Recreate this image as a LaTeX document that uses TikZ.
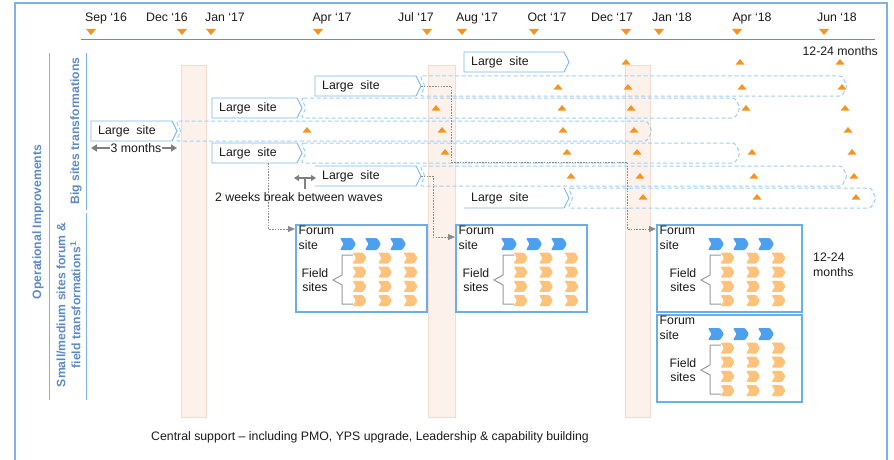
\documentclass[tikz,border=0pt]{standalone}
\usepackage{fontspec}
\setmainfont{Liberation Sans}
\usetikzlibrary{arrows.meta}

\definecolor{frameblue}{HTML}{7DB3E6}
\definecolor{axisblue}{HTML}{5B8FCF}
\definecolor{labelblue}{HTML}{5E8BC6}
\definecolor{siteblue}{HTML}{7DB8E8}
\definecolor{dashblue}{HTML}{9FD0F2}
\definecolor{markorange}{HTML}{F7941E}
\definecolor{chevblue}{HTML}{4DA0EE}
\definecolor{chevorange}{HTML}{FFC27A}
\definecolor{bandfill}{HTML}{FDF2EB}
\definecolor{banddraw}{HTML}{F2DCD0}
\definecolor{linkgray}{HTML}{8C8C8C}
\definecolor{arrowgray}{HTML}{7F7F7F}
\definecolor{textdark}{HTML}{1A1A1A}
\definecolor{forumblue}{HTML}{6AAFE6}
\definecolor{bracketgray}{HTML}{9A9A9A}

\tikzset{
  frameline/.style={draw=frameblue, line width=1.5pt},
  groupline/.style={draw=frameblue, line width=1pt},
  band/.style={fill=bandfill, draw=banddraw, line width=0.6pt},
  solidbox/.style={draw=siteblue, line width=0.9pt, fill=white},
  dashbox/.style={draw=dashblue, line width=1pt, dash pattern=on 4pt off 2.5pt, rounded corners=2.5pt},
  forumframe/.style={draw=forumblue, line width=1.6pt, fill=white, inner sep=0pt},
  bracketline/.style={draw=bracketgray, line width=1pt},
  link/.style={draw=linkgray, line width=0.8pt, dash pattern=on 1.6pt off 1.2pt, -{Triangle[length=7pt,width=6pt]}},
  gaparrow/.style={draw=arrowgray, line width=1.8pt, -{Triangle[length=6pt,width=7pt]}},
  sidelabel/.style={text=labelblue, font=\fontsize{12.2}{15}\selectfont\bfseries, inner sep=0pt},
  uptri/.pic={\fill[markorange] (-4.5,2.6) -- (4.5,2.6) -- (0,-3) -- cycle;},
  downtri/.pic={\fill[markorange] (-5,-3) -- (5,-3) -- (0,3) -- cycle;},
  bluechev/.pic={\fill[chevblue, rounded corners=1pt] (-8,-6) -- (4,-6) -- (8,0) -- (4,6) -- (-8,6) -- (-4.5,0) -- cycle;},
  orangechev/.pic={\fill[chevorange, rounded corners=1pt] (-7,-5.5) -- (3.5,-5.5) -- (7,0) -- (3.5,5.5) -- (-7,5.5) -- (-3.5,0) -- cycle;},
}

% one forum box: name, left, top, width, content shift
\newcommand\forumbox[5]{%
  \node[forumframe, minimum width=#4pt, minimum height=87pt, anchor=north west] (#1) at (#2,#3) {};
  \node[anchor=north west, align=left, inner sep=0pt] (#1forum) at ({#2+3.5},{#3+2}) {Forum\\site};
  \node[align=center, inner sep=0pt] (#1field) at ({#2+#5+20},{#3+56}) {Field\\sites};
  \draw[bracketline] ({#2+#5+58},{#3+31}) -- ({#2+#5+47},{#3+31}) -- ({#2+#5+47},{#3+51})
    -- ({#2+#5+38},{#3+56}) -- ({#2+#5+47},{#3+61}) -- ({#2+#5+47},{#3+80}) -- ({#2+#5+58},{#3+80});
  \foreach \c in {0,1,2} {
    \pic at ({#2+#5+53+25*\c},{#3+20}) {bluechev};
    \foreach \r in {0,1,2,3} \pic at ({#2+#5+64.5+25.5*\c},{#3+34+14.2*\r}) {orangechev};
  }
}

\begin{document}
\begin{tikzpicture}[x=1pt,y=-1pt,
  every node/.style={font=\fontsize{12.3}{14.5}\selectfont, text=textdark}]
\useasboundingbox (0,0) rectangle (894,460);

% outer frame and time axis
\draw[frameline] (15,3) rectangle (887,480);
\draw[draw=axisblue, line width=1pt] (81,40) -- (875,40);

% months along the top
\foreach \i/\x/\t in {1/106/Sep ‘16, 2/167/Dec ‘16, 3/225/Jan ‘17, 4/332/Apr ‘17, 5/416/Jul ‘17,
                      6/477/Aug ‘17, 7/547/Oct ‘17, 8/612/Dec ‘17, 9/672/Jan ‘18, 10/752/Apr ‘18, 11/837/Jun ‘18}
  \node[anchor=base] (month\i) at (\x,21.5) {\t};
\foreach \x in {91,182,211,318,427,462,534,626,659,737,824}
  \pic at (\x,32) {downtri};
\node[anchor=east, inner sep=0pt] (spantop) at (878,51) {12-24 months};

% support bands
\draw[band] (181,65) rectangle (206,417);
\draw[band] (428,65) rectangle (455,417);
\draw[band] (625,65) rectangle (650,417);

% group labels on the left
\draw[groupline] (49,53) -- (49,400);
\draw[groupline] (86,53) -- (86,210);
\draw[groupline] (86,213) -- (86,400);
\node[sidelabel, rotate=90] (opimp) at (38,222) {Operational Improvements};
\node[sidelabel, rotate=90] (bigsites) at (76,131) {Big sites transformations};
\node[sidelabel, rotate=90, align=center] (smallsites) at (68.5,305) {Small/medium sites forum \&\\field transformations\textsuperscript{1}};

% dashed continuation of each wave
\foreach \r/\P/\T/\E in {B/421/76/847, C/302/98/740, D/177/121/652, E/302/143/740, F/421/166/847, G/569/188/876}
  \draw[dashbox] ({\P-1},\T) -- ({\E-5},\T) -- (\E,{\T+10}) -- ({\E-5},{\T+20}) -- ({\P-1},{\T+20}) -- ({\P+4},{\T+10}) -- cycle;

% large site waves
\foreach \r/\L/\P/\T in {A/464/569/52, B/315/421/76, C/212/302/98, D/91/177/121, E/212/302/143}
  \draw[solidbox] (\L,\T) -- ({\P-5},\T) -- (\P,{\T+10}) -- ({\P-5},{\T+20}) -- (\L,{\T+20}) -- cycle;
\draw[solidbox, fill=none] (315,166) -- (416,166) -- (421,176) -- (416,186) -- (315,186);
\draw[solidbox, fill=none] (564,188) -- (569,198) -- (564,208) -- (464,208);
\foreach \r/\L/\P/\T in {A/464/569/52, B/315/421/76, C/212/302/98, D/91/177/121, E/212/302/143, F/315/421/166, G/464/569/188} {
  \node[anchor=west, inner sep=0pt] (site\r) at ({\L+7},{\T+10.5}) {Large\ \ site};
  \coordinate (tip\r) at (\P,{\T+10});
}

% milestones in each wave
\foreach \y/\xs in {62/{626,740,840}, 87/{558,628,742,842}, 108/{436,562,631,746,845},
                    130/{307,442,563,634,848}, 152/{445,567,637,752,852}, 176/{571,640,754,854}, 197/{643,757,856}}
  \foreach \x in \xs \pic at (\x,\y) {uptri};

% wave length and break annotations
\coordinate (threeL) at (91,148);
\coordinate (threeR) at (177,148);
\node[fill=white, inner sep=1pt] (threeM) at (136,148) {3 months};
\draw[gaparrow] (threeM.west) -- (threeL);
\draw[gaparrow] (threeM.east) -- (threeR);

\coordinate (wkL) at (294,178);
\coordinate (wkR) at (316,178);
\coordinate (wkM) at (305,178);
\node (weeks) at (299,197) {2 weeks break between waves};
\draw[draw=arrowgray, line width=1.8pt, {Triangle[length=5pt,width=6pt]}-{Triangle[length=5pt,width=6pt]}] (wkL) -- (wkR);
\draw[draw=arrowgray, line width=1.8pt] (wkM) -- (wkM |- weeks.north);

% forum and field site groups
\forumbox{boxA}{295}{224}{131}{0}
\forumbox{boxB}{455}{224}{131}{1}
\forumbox{boxC}{656}{224}{145}{7}
\forumbox{boxD}{656}{314}{145}{7}
\node[anchor=west, align=left, inner sep=0pt] (spanside) at (813,265) {12-24\\months};

% hand-over links from waves to forum groups
\coordinate (dropE) at (268,163);
\coordinate (jB) at (627,162);
\draw[link] (dropE) |- ([yshift=-5pt]boxA.north west);
\draw[link] (tipF) -- ++(12,0) |- ([yshift=-13pt]boxB.north west);
\draw[link] (tipB) -- ++(30,0) |- (jB) |- ([yshift=-5pt]boxC.north west);

% footer
\node (central) at (370,437) {Central support – including PMO, YPS upgrade, Leadership \& capability building};
\end{tikzpicture}
\end{document}
